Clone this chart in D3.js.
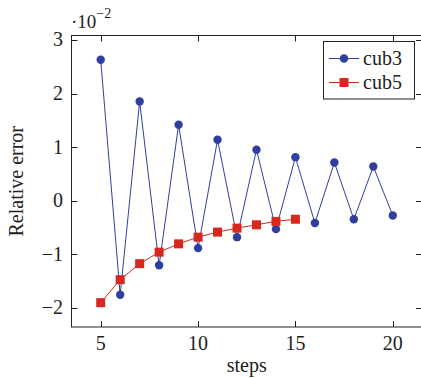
<!DOCTYPE html>
<html>
<head>
<meta charset="utf-8">
<script src="https://cdn.jsdelivr.net/npm/d3@7"></script>
<style>
    body { margin: 0; background: #fff; }
    svg text { font-family: "Liberation Serif", "DejaVu Serif", serif; fill: #222; }
</style>
</head>
<body>
<svg id="chart" width="421" height="378"></svg>
<script>
// Data (relative error, in units of 1e-2)
const stepsCub3 = [5, 6, 7, 8, 9, 10, 11, 12, 13, 14, 15, 16, 17, 18, 19, 20]
const valuesCub3 = [2.63, -1.76, 1.85, -1.21, 1.415, -0.89, 1.135, -0.685, 0.948, -0.535, 0.81, -0.42, 0.71, -0.35, 0.635, -0.28]
const stepsCub5 = [5, 6, 7, 8, 9, 10, 11, 12, 13, 14, 15]
const valuesCub5 = [-1.91, -1.48, -1.18, -0.965, -0.81, -0.685, -0.59, -0.516, -0.454, -0.39, -0.35]
const xTicks = [5, 10, 15, 20]
const yTicks = [-2, -1, 0, 1, 2, 3]

const colorCub3 = '#2f3f9f'
const colorCub5 = '#d6281e'

const svg = d3.select("#chart")
const plotLeft = 71.5, plotRight = 422, plotTop = 35.5, plotBottom = 327

const x = d3.scaleLinear().domain([3.5, 21.5]).range([plotLeft, plotRight])
const y = d3.scaleLinear().domain([-2.364, 3.084]).range([plotBottom, plotTop])

// Frame
svg.append('rect')
    .attr('x', plotLeft).attr('y', plotTop)
    .attr('width', plotRight - plotLeft).attr('height', plotBottom - plotTop)
    .attr('fill', 'none').attr('stroke', '#222').attr('stroke-width', 1)

// Ticks (inward, on all four sides)
const tickLen = 6
xTicks.forEach(t => {
    const px = Math.round(x(t)) + 0.5
    svg.append('line').attr('x1', px).attr('x2', px).attr('y1', plotBottom).attr('y2', plotBottom - tickLen).attr('stroke', '#222')
    svg.append('line').attr('x1', px).attr('x2', px).attr('y1', plotTop).attr('y2', plotTop + tickLen).attr('stroke', '#222')
    svg.append('text')
        .attr('x', x(t)).attr('y', 350)
        .attr('text-anchor', 'middle')
        .style('font-size', '20px')
        .text(t)
})
yTicks.forEach(t => {
    const py = Math.round(y(t)) + 0.5
    svg.append('line').attr('x1', plotLeft).attr('x2', plotLeft + tickLen).attr('y1', py).attr('y2', py).attr('stroke', '#222')
    svg.append('line').attr('x1', plotRight).attr('x2', plotRight - tickLen).attr('y1', py).attr('y2', py).attr('stroke', '#222')
    svg.append('text')
        .attr('x', 63).attr('y', y(t) + 6.5)
        .attr('text-anchor', 'end')
        .style('font-size', '20px')
        .text(t < 0 ? '\u2212' + Math.abs(t) : t)
})

// Scale factor label
const factor = svg.append('text').attr('x', 71).attr('y', 28).style('font-size', '19px')
factor.append('tspan').text('\u00b710')
factor.append('tspan').attr('dy', -10).style('font-size', '14px').text('\u22122')

// Axis labels
svg.append('text')
    .attr('x', x(12.5)).attr('y', 372)
    .attr('text-anchor', 'middle')
    .style('font-size', '20px')
    .text('steps')
svg.append('text')
    .attr('transform', `translate(23,${(plotTop + plotBottom) / 2}) rotate(-90)`)
    .attr('text-anchor', 'middle')
    .style('font-size', '20px')
    .text('Relative error')

// Lines
const line = d3.line().x(d => x(d[0])).y(d => y(d[1]))
const dataCub3 = d3.zip(stepsCub3, valuesCub3)
const dataCub5 = d3.zip(stepsCub5, valuesCub5)

svg.append('path').datum(dataCub3).attr('d', line)
    .attr('fill', 'none').attr('stroke', colorCub3).attr('stroke-width', 1)
svg.selectAll('.dot3').data(dataCub3).join('circle')
    .attr('cx', d => x(d[0])).attr('cy', d => y(d[1])).attr('r', 4.2)
    .attr('fill', colorCub3)

svg.append('path').datum(dataCub5).attr('d', line)
    .attr('fill', 'none').attr('stroke', colorCub5).attr('stroke-width', 1)
svg.selectAll('.sq5').data(dataCub5).join('rect')
    .attr('x', d => x(d[0]) - 4.5).attr('y', d => y(d[1]) - 4.5)
    .attr('width', 9).attr('height', 9)
    .attr('fill', colorCub5)

// Legend
const legend = svg.append('g')
legend.append('rect')
    .attr('x', 323.5).attr('y', 41.5).attr('width', 91).attr('height', 57.5)
    .attr('fill', '#fff').attr('stroke', '#222')
const entries = [
    { name: 'cub3', color: colorCub3, shape: 'circle', yPos: 58.5 },
    { name: 'cub5', color: colorCub5, shape: 'square', yPos: 82.5 }
]
entries.forEach(e => {
    legend.append('line').attr('x1', 329).attr('x2', 359).attr('y1', e.yPos).attr('y2', e.yPos)
        .attr('stroke', e.color).attr('stroke-width', 1)
    if (e.shape == 'circle') {
        legend.append('circle').attr('cx', 344).attr('cy', e.yPos).attr('r', 4.2).attr('fill', e.color)
    } else {
        legend.append('rect').attr('x', 339.5).attr('y', e.yPos - 4.5).attr('width', 9).attr('height', 9).attr('fill', e.color)
    }
    legend.append('text').attr('x', 363).attr('y', e.yPos + 6.5)
        .style('font-size', '20px').text(e.name)
})
</script>
</body>
</html>
